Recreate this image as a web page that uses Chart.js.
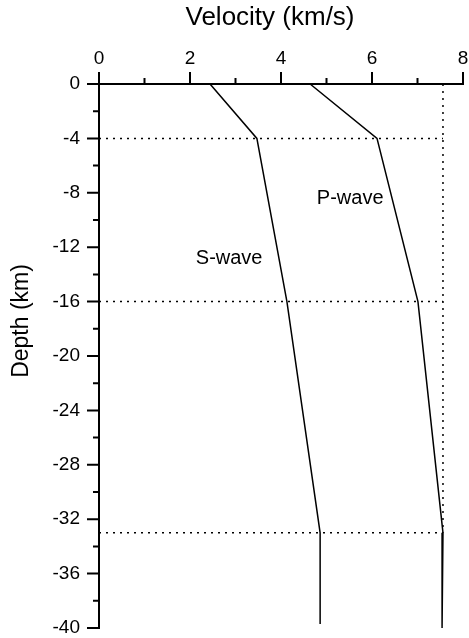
<!DOCTYPE html>
<html>
<head>
<meta charset="utf-8">
<script src="https://cdn.jsdelivr.net/npm/chart.js@4.4.0/dist/chart.umd.min.js"></script>
<style>
    html, body { margin: 0; padding: 0; background: #fff; overflow: hidden; }
    canvas { display: block; }
</style>
</head>
<body>
<canvas id="velChart" width="469" height="638"></canvas>
<script>
// velocity model (km/s) vs depth (km)
const pDepths = [0, -4, -16, -33, -40];
const pWave = [4.64, 6.11, 7.01, 7.56, 7.54];
const sDepths = [0, -4, -16, -33, -39.7];
const sWave = [2.44, 3.47, 4.13, 4.86, 4.86];

// layer boundaries (dotted)
const layerDepths = [-4, -16, -33];
const mohoVelocity = 7.56;

// axis ticks
const xMajor = [0, 2, 4, 6, 8];
const xMinor = [1, 3, 5, 7];
const yMajor = [0, -4, -8, -12, -16, -20, -24, -28, -32, -36, -40];
const yMinor = [-2, -6, -10, -14, -18, -22, -26, -30, -34, -38];

const FONT = 'Liberation Sans, Arial, sans-serif';

function toPoints(xs, ys) {
    return xs.map(function (x, i) { return { x: x, y: ys[i] }; });
}

const solid = { borderColor: '#000', borderWidth: 1.5, pointRadius: 0, showLine: true, tension: 0, clip: false };
const dotted = { borderColor: '#000', borderWidth: 1.5, borderDash: [2, 5], pointRadius: 0, showLine: true, clip: false };

const datasets = [
    Object.assign({ label: 'P-wave', data: toPoints(pWave, pDepths) }, solid),
    Object.assign({ label: 'S-wave', data: toPoints(sWave, sDepths) }, solid)
];
layerDepths.forEach(function (d) {
    datasets.push(Object.assign({ data: [{ x: 0, y: d }, { x: mohoVelocity, y: d }] }, dotted));
});
datasets.push(Object.assign({ data: [{ x: mohoVelocity, y: 0 }, { x: mohoVelocity, y: layerDepths[layerDepths.length - 1] }] }, dotted));

// major / minor tick marks outside the axes, axis titles, curve labels
const extras = {
    id: 'extras',
    afterDraw: function (chart) {
        const ctx = chart.ctx;
        const xs = chart.scales.x, ys = chart.scales.y;
        const top = chart.chartArea.top, left = chart.chartArea.left;
        ctx.save();
        ctx.strokeStyle = '#000';
        ctx.lineWidth = 2;
        ctx.beginPath();
        xMajor.concat(xMinor).forEach(function (v) {
            const px = xs.getPixelForValue(v);
            const len = xMajor.indexOf(v) >= 0 ? 12 : 6;
            ctx.moveTo(px, top);
            ctx.lineTo(px, top - len);
        });
        yMajor.concat(yMinor).forEach(function (v) {
            const py = ys.getPixelForValue(v);
            const len = yMajor.indexOf(v) >= 0 ? 12 : 6;
            ctx.moveTo(left, py);
            ctx.lineTo(left - len, py);
        });
        ctx.stroke();

        ctx.fillStyle = '#000';
        ctx.textAlign = 'center';
        ctx.textBaseline = 'middle';

        // axis titles
        ctx.font = '26px ' + FONT;
        ctx.fillText('Velocity (km/s)', 270, 18);
        ctx.save();
        ctx.translate(22, 321);
        ctx.rotate(-Math.PI / 2);
        ctx.font = '23px ' + FONT;
        ctx.fillText('Depth (km)', 0, 0);
        ctx.restore();

        // curve labels
        ctx.font = '20px ' + FONT;
        ctx.fillText('P-wave', xs.getPixelForValue(5.52), ys.getPixelForValue(-8.45));
        ctx.fillText('S-wave', xs.getPixelForValue(2.86), ys.getPixelForValue(-12.8));
        ctx.restore();
    }
};

function noOverflow(scale) {
    scale.paddingLeft = 0;
    scale.paddingRight = 0;
    scale.paddingTop = 0;
    scale.paddingBottom = 0;
}

new Chart(document.getElementById('velChart'), {
    type: 'scatter',
    data: { datasets: datasets },
    plugins: [extras],
    options: {
        responsive: false,
        animation: false,
        layout: { padding: { right: 6, bottom: 10 } },
        plugins: {
            legend: { display: false },
            tooltip: { enabled: false }
        },
        scales: {
            x: {
                type: 'linear',
                position: 'top',
                min: 0,
                max: 8,
                afterBuildTicks: function (scale) {
                    scale.ticks = xMajor.map(function (v) { return { value: v }; });
                },
                afterFit: function (scale) { scale.height = 84; noOverflow(scale); },
                grid: { display: false, drawTicks: false },
                border: { display: true, color: '#000', width: 2 },
                ticks: { color: '#000', padding: 14, font: { family: FONT, size: 19 } },
                title: { display: false }
            },
            y: {
                type: 'linear',
                min: -40,
                max: 0,
                afterBuildTicks: function (scale) {
                    scale.ticks = yMajor.map(function (v) { return { value: v }; });
                },
                afterFit: function (scale) { scale.width = 99; noOverflow(scale); },
                grid: { display: false, drawTicks: false },
                border: { display: true, color: '#000', width: 2 },
                ticks: { color: '#000', padding: 19, font: { family: FONT, size: 19 } },
                title: { display: false }
            }
        }
    }
});
</script>
</body>
</html>
